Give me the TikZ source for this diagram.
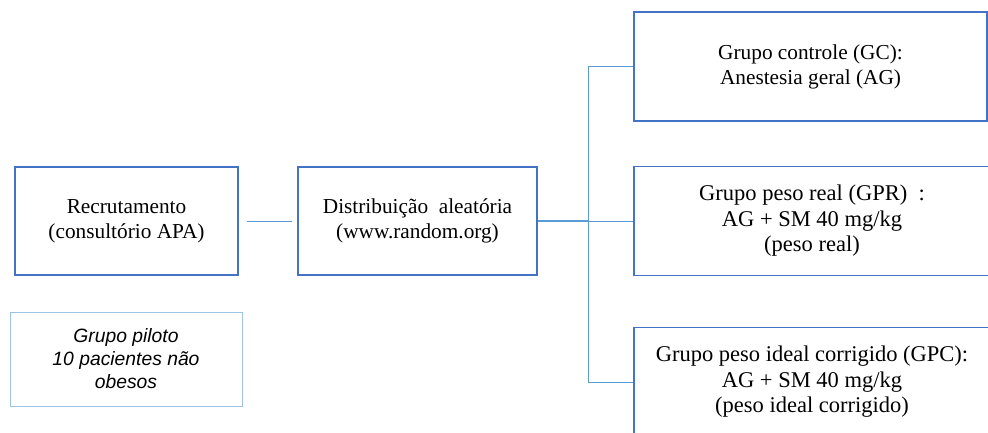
\documentclass[tikz,border=0pt]{standalone}
\usepackage{fontspec}
\setmainfont{Liberation Serif}
\newfontfamily\pilotfont{Liberation Sans}
\usepackage{tikz}
\usetikzlibrary{calc,positioning}

\definecolor{boxblue}{RGB}{68,114,196}
\definecolor{linkblue}{RGB}{91,155,213}
\definecolor{paleblue}{RGB}{157,195,230}

\tikzset{
	etapa/.style={draw=boxblue, line width=1.2pt, align=center, inner sep=0pt,
		font=\fontsize{22.5}{25.5}\selectfont},
	etapa menor/.style={etapa, font=\fontsize{21.3}{25}\selectfont},
	piloto/.style={draw=paleblue, line width=1pt, align=center, inner sep=0pt,
		font=\pilotfont\itshape\fontsize{19.3}{23}\selectfont},
	ligacao/.style={draw=linkblue, line width=1pt}
}

\begin{document}
\begin{tikzpicture}[x=1pt, y=-1pt]
	\clip (0, 0) rectangle (988, 433);

	\node[etapa menor, minimum width=223pt, minimum height=108pt] (recrut) at (126.5, 221) {Recrutamento\\(consult\'orio APA)};
	\node[etapa menor, minimum width=239pt, minimum height=108pt] (distrib) at (417.5, 221) {Distribui\c{c}\~ao~ aleat\'oria\\(www.random.org)};

	\node[etapa menor, minimum width=353pt, minimum height=109pt] (gc) at (810.5, 66.5) {Grupo controle (GC):\\Anestesia geral (AG)};
	\node[etapa, minimum width=356pt, minimum height=109pt] (gpr) at (812, 221) {Grupo peso real (GPR)~ :\\AG + SM 40 mg/kg\\(peso real)};
	\node[etapa, minimum width=356pt, minimum height=109pt] (gpc) at (812, 382) {Grupo peso ideal corrigido (GPC):\\AG + SM 40 mg/kg\\(peso ideal corrigido)};

	\node[piloto, minimum width=232pt, minimum height=94pt] (piloto) at (126, 359) {Grupo piloto\\10 pacientes n\~ao\\obesos};

	\coordinate (split) at (588, 221);

	\draw[ligacao, shorten <=8pt, shorten >=5pt] (recrut.east) -- (distrib.west);
	\draw[ligacao, line width=1.6pt] (distrib.east) -- (split);
	\draw[ligacao] (split) |- (gc.west);
	\draw[ligacao] (split) -- (gpr.west);
	\draw[ligacao] (split) |- (gpc.west);

\end{tikzpicture}
\end{document}
